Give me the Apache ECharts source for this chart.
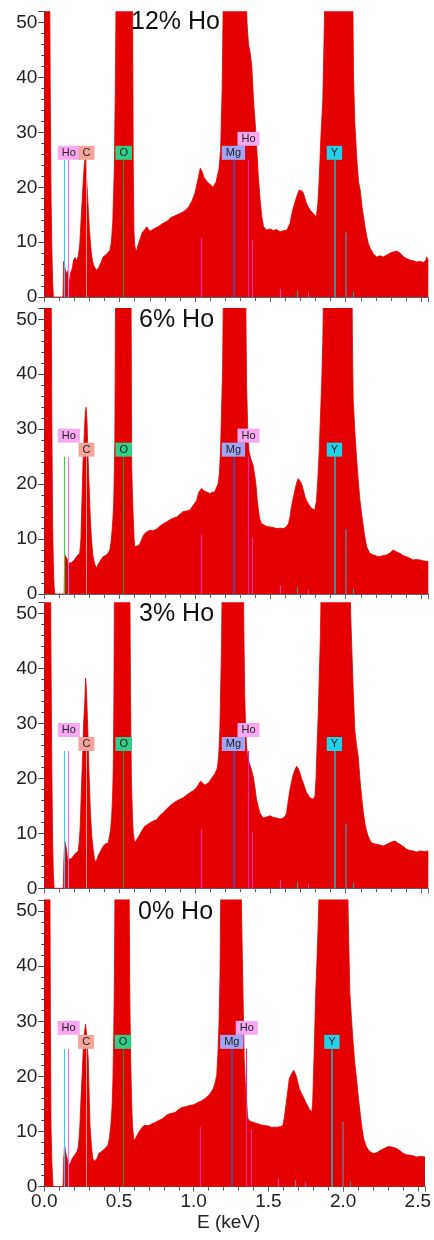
<!DOCTYPE html>
<html>
<head>
<meta charset="utf-8">
<script src="https://cdn.jsdelivr.net/npm/echarts@6/dist/echarts.min.js"></script>
<style>
  html, body { margin: 0; padding: 0; background: #fff; }
  #chart { width: 434px; height: 1240px; }
</style>
</head>
<body>
<div id="chart"></div>
<script>
// EDS spectra, counts vs energy (keV)
const panelTitles = ['12% Ho', '6% Ho', '3% Ho', '0% Ho'];

const ho12 = [
  [0, 60], [0.035, 60], [0.04, 35], [0.045, 18], [0.05, 9], [0.055, 3], [0.06, 0],
  [0.124, 0], [0.128, 6.5], [0.135, 5.5], [0.145, 4.3], [0.155, 4.8], [0.165, 2.6], [0.175, 4.4], [0.185, 5.2],
  [0.195, 6.8], [0.205, 7.2], [0.215, 6.6], [0.225, 7.4], [0.235, 9.5], [0.245, 14.5], [0.255, 19.5], [0.265, 24],
  [0.272, 25.5], [0.28, 22], [0.29, 17], [0.3, 12], [0.31, 8.5], [0.32, 6.5], [0.33, 5.6], [0.345, 4.9], [0.36, 5.3],
  [0.375, 6.2], [0.39, 7.3], [0.405, 7.6], [0.42, 8], [0.435, 8.5], [0.445, 10], [0.455, 14], [0.465, 24], [0.472, 40],
  [0.478, 60], [0.585, 60], [0.59, 25], [0.595, 12], [0.6, 9.3], [0.61, 8.2], [0.62, 9.3], [0.635, 10.5], [0.65, 11.8],
  [0.665, 12.2], [0.68, 12.8], [0.7, 12], [0.72, 12.3], [0.74, 12.6], [0.76, 12.9], [0.78, 13.3], [0.8, 13.6], [0.82, 13.9],
  [0.84, 14.5], [0.86, 14.7], [0.88, 15], [0.9, 15.2], [0.92, 15.5], [0.94, 15.9], [0.96, 16.5], [0.98, 17.5], [1.0, 19],
  [1.02, 21.5], [1.035, 23.5], [1.045, 23], [1.06, 21.8], [1.08, 21], [1.1, 20.5], [1.12, 20], [1.14, 21], [1.16, 23.5],
  [1.17, 27], [1.18, 38], [1.19, 60], [1.335, 60], [1.345, 50], [1.355, 46], [1.366, 44.5], [1.377, 42], [1.388, 36],
  [1.4, 31.5], [1.41, 27], [1.42, 22], [1.432, 17.7], [1.444, 14.5], [1.455, 12.8], [1.475, 12.2], [1.5, 12.4], [1.52, 12.1],
  [1.54, 12.3], [1.565, 11.9], [1.59, 12.1], [1.61, 12.2], [1.63, 13.4], [1.645, 15.5], [1.655, 16.5], [1.675, 18.3],
  [1.69, 19.5], [1.698, 19.8], [1.71, 19.3], [1.72, 18.9], [1.74, 17], [1.765, 15.8], [1.785, 15.2], [1.805, 14.6],
  [1.815, 17], [1.825, 22], [1.835, 29], [1.848, 36], [1.857, 48], [1.865, 60], [2.045, 60], [2.052, 40], [2.06, 32],
  [2.074, 25], [2.085, 21], [2.096, 19.5], [2.108, 16.5], [2.118, 14.6], [2.13, 12.5], [2.14, 11], [2.15, 9.8], [2.162, 8.9],
  [2.185, 7.8], [2.206, 7.3], [2.23, 7.5], [2.25, 7.3], [2.275, 7.7], [2.295, 8], [2.315, 8.2], [2.34, 8.4], [2.36, 8],
  [2.385, 7.3], [2.405, 7], [2.43, 6.7], [2.45, 6.6], [2.47, 6.4], [2.495, 6.5], [2.515, 6.3], [2.53, 6.6], [2.538, 7.3],
  [2.548, 6.5]
];

const ho6 = [
  [0, 60], [0.045, 60], [0.05, 32], [0.055, 13], [0.06, 5.5], [0.065, 1.5], [0.07, 0],
  [0.132, 0], [0.136, 7.1], [0.142, 6.8], [0.15, 6.5], [0.16, 5.6], [0.17, 5.3], [0.18, 5.7], [0.19, 5.6], [0.2, 6.2],
  [0.213, 6.8], [0.225, 7], [0.235, 7.4], [0.243, 10], [0.25, 17], [0.257, 24], [0.265, 29], [0.272, 33], [0.278, 34],
  [0.284, 31], [0.29, 25], [0.297, 20], [0.305, 14], [0.313, 10], [0.322, 7], [0.335, 5.4], [0.346, 4.7], [0.357, 5.4],
  [0.369, 5.9], [0.38, 6.4], [0.39, 6.8], [0.405, 7], [0.42, 7.3], [0.435, 8], [0.443, 9.5], [0.45, 11.6], [0.456, 14],
  [0.461, 17], [0.468, 28], [0.474, 60], [0.575, 60], [0.58, 23], [0.585, 18], [0.59, 14], [0.596, 10], [0.6, 8.6],
  [0.613, 8.5], [0.623, 8.8], [0.635, 9.2], [0.645, 9.4], [0.655, 10.5], [0.667, 11], [0.685, 11.4], [0.7, 11.6],
  [0.72, 11.5], [0.745, 11.8], [0.765, 12.3], [0.79, 12.8], [0.81, 13.1], [0.833, 13.5], [0.855, 13.8], [0.878, 14],
  [0.9, 14.5], [0.922, 15], [0.945, 15.1], [0.966, 15.3], [0.99, 16.2], [1.01, 17], [1.025, 18.5], [1.043, 19.2],
  [1.055, 18.9], [1.065, 18.7], [1.08, 18.5], [1.1, 18.3], [1.115, 18.5], [1.131, 18.6], [1.145, 19.5], [1.154, 20.1],
  [1.162, 22], [1.169, 26], [1.176, 33], [1.183, 41], [1.19, 60], [1.335, 60], [1.342, 38], [1.35, 30], [1.358, 26],
  [1.37, 24.6], [1.385, 23.5], [1.398, 21.3], [1.406, 19.5], [1.413, 17], [1.422, 15], [1.431, 13.5], [1.442, 12.8],
  [1.453, 12.5], [1.475, 12.3], [1.498, 12.2], [1.52, 12.1], [1.542, 11.9], [1.565, 12], [1.586, 11.9], [1.605, 12.2],
  [1.62, 12.8], [1.63, 14], [1.64, 15.9], [1.652, 17.5], [1.663, 18.9], [1.675, 20.3], [1.685, 21], [1.695, 20.6],
  [1.707, 20.1], [1.718, 19], [1.73, 17.7], [1.74, 17], [1.75, 16.5], [1.762, 16], [1.773, 15.6], [1.785, 15.4],
  [1.795, 15.3], [1.806, 17], [1.815, 21], [1.824, 26], [1.832, 32], [1.84, 38], [1.848, 46], [1.855, 60], [2.04, 60],
  [2.045, 45], [2.05, 35], [2.062, 29], [2.073, 24.4], [2.085, 20], [2.095, 17], [2.106, 14.5], [2.117, 12.2],
  [2.128, 10.2], [2.139, 8.6], [2.16, 7.4], [2.184, 7.1], [2.205, 6.9], [2.227, 6.8], [2.25, 7], [2.27, 7.1], [2.295, 7.5],
  [2.315, 8], [2.335, 7.7], [2.36, 7.4], [2.38, 7], [2.404, 6.8], [2.425, 6.5], [2.448, 6.2], [2.47, 6.3], [2.492, 6.2],
  [2.52, 6], [2.548, 5.9]
];

const ho3 = [
  [0, 60], [0.041, 60], [0.045, 40], [0.05, 22], [0.055, 9], [0.06, 2.5], [0.065, 0],
  [0.125, 0], [0.13, 5], [0.136, 8.6], [0.142, 7.8], [0.147, 7.1], [0.152, 6], [0.158, 5.3], [0.17, 5.2], [0.18, 5.4],
  [0.19, 5.8], [0.202, 6.2], [0.213, 6.5], [0.225, 6.8], [0.232, 8.5], [0.238, 11], [0.245, 17], [0.253, 23], [0.261, 30],
  [0.269, 34], [0.274, 38.3], [0.28, 36], [0.286, 31], [0.291, 27], [0.298, 20], [0.306, 13.8], [0.315, 9.5], [0.324, 7.1],
  [0.333, 5.4], [0.34, 4.7], [0.348, 5.2], [0.357, 5.9], [0.368, 6.5], [0.38, 7.1], [0.39, 7.6], [0.402, 8], [0.413, 8.1],
  [0.424, 8.3], [0.433, 9.5], [0.44, 10.7], [0.447, 13], [0.453, 16.8], [0.458, 22], [0.462, 35], [0.466, 60], [0.567, 60],
  [0.572, 35], [0.578, 19.8], [0.585, 13], [0.59, 10.1], [0.6, 8.3], [0.612, 8.8], [0.623, 9.3], [0.634, 9.8], [0.65, 10.6],
  [0.667, 11.3], [0.685, 11.6], [0.7, 11.9], [0.72, 12.2], [0.745, 12.5], [0.765, 13.2], [0.79, 13.8], [0.81, 14.4],
  [0.833, 15], [0.855, 15.5], [0.878, 15.9], [0.9, 16.2], [0.922, 16.5], [0.945, 17], [0.966, 17.4], [0.99, 17.8],
  [1.01, 18.3], [1.025, 19], [1.037, 19.5], [1.05, 19.2], [1.065, 18.8], [1.076, 18.6], [1.09, 19.2], [1.105, 19.8],
  [1.12, 20.4], [1.135, 21], [1.148, 21.9], [1.157, 24], [1.165, 28.9], [1.17, 36], [1.176, 44], [1.182, 60], [1.32, 60],
  [1.325, 45], [1.33, 35], [1.336, 29], [1.342, 25.9], [1.35, 24], [1.36, 22.8], [1.372, 21.8], [1.386, 20.4],
  [1.397, 18.5], [1.408, 16.2], [1.42, 14.8], [1.43, 13.8], [1.442, 13.2], [1.453, 12.8], [1.475, 13], [1.498, 13.2],
  [1.52, 12.9], [1.542, 12.8], [1.565, 12.6], [1.586, 12.8], [1.6, 13.2], [1.608, 13.8], [1.618, 15.8], [1.63, 18],
  [1.642, 19.6], [1.652, 20.7], [1.663, 21.6], [1.674, 22.2], [1.685, 21.8], [1.696, 21], [1.707, 20], [1.718, 19.2],
  [1.73, 18.2], [1.74, 17.4], [1.752, 17], [1.762, 16.5], [1.775, 16.3], [1.785, 16.2], [1.796, 16.8], [1.803, 20],
  [1.81, 25.9], [1.818, 32], [1.824, 38], [1.832, 46], [1.84, 60], [2.027, 60], [2.033, 50], [2.04, 44], [2.05, 36],
  [2.06, 28.9], [2.072, 26], [2.083, 24], [2.094, 20], [2.105, 16.8], [2.116, 14], [2.127, 11.9], [2.138, 10.5],
  [2.149, 9.5], [2.16, 8.8], [2.171, 8.3], [2.19, 8.1], [2.205, 8], [2.228, 7.9], [2.25, 7.7], [2.272, 8], [2.294, 8.3],
  [2.31, 8.5], [2.326, 8.6], [2.343, 8.3], [2.36, 8], [2.382, 7.6], [2.404, 7.1], [2.425, 6.9], [2.448, 6.8], [2.47, 6.6],
  [2.492, 6.8], [2.52, 6.7], [2.548, 6.8]
];

const ho0 = [
  [0, 60], [0.037, 60], [0.041, 29], [0.045, 11], [0.05, 5], [0.055, 1.5], [0.059, 0],
  [0.125, 0], [0.13, 5], [0.136, 7.5], [0.142, 6.5], [0.147, 5.7], [0.158, 4.6], [0.169, 3.9], [0.178, 4.5], [0.187, 5.1],
  [0.195, 5.4], [0.202, 5.7], [0.21, 6], [0.218, 6.3], [0.226, 7], [0.232, 8.5], [0.238, 11], [0.245, 15.5], [0.253, 20.2],
  [0.261, 25], [0.269, 28], [0.276, 29.5], [0.282, 28], [0.288, 25.5], [0.294, 23.2], [0.3, 17], [0.306, 11.1],
  [0.315, 7.5], [0.324, 5.1], [0.335, 4.6], [0.346, 4.5], [0.355, 5.2], [0.364, 6], [0.378, 6.3], [0.39, 6.6], [0.402, 6.8],
  [0.413, 6.9], [0.425, 7.5], [0.435, 8.7], [0.445, 11], [0.453, 14.1], [0.459, 19], [0.464, 26], [0.47, 40], [0.474, 60],
  [0.567, 60], [0.572, 35], [0.578, 23.2], [0.584, 16], [0.59, 11.1], [0.6, 8.4], [0.612, 8.8], [0.623, 9.4], [0.634, 9.9],
  [0.65, 10.6], [0.667, 11.1], [0.685, 11.1], [0.7, 11.1], [0.72, 11.4], [0.745, 11.7], [0.765, 12], [0.79, 12.3],
  [0.81, 12.8], [0.833, 13.2], [0.855, 13.3], [0.878, 13.5], [0.9, 14], [0.922, 14.4], [0.945, 14.5], [0.966, 14.7],
  [0.99, 14.8], [1.01, 15], [1.03, 15.3], [1.054, 15.6], [1.076, 16], [1.098, 16.5], [1.115, 17.1], [1.131, 17.8],
  [1.143, 18.8], [1.154, 20.2], [1.162, 24], [1.169, 29.2], [1.176, 38], [1.183, 60], [1.315, 60], [1.32, 50],
  [1.326, 41.3], [1.332, 32], [1.338, 23.2], [1.345, 19], [1.353, 15.9], [1.36, 13], [1.364, 12.3], [1.375, 11.9],
  [1.386, 11.7], [1.408, 11.6], [1.43, 11.4], [1.452, 11.2], [1.475, 11.1], [1.498, 11], [1.52, 10.8], [1.542, 10.8],
  [1.563, 10.8], [1.58, 10.9], [1.597, 11.1], [1.608, 12.8], [1.62, 15.3], [1.63, 17.5], [1.64, 19.6], [1.655, 20.5],
  [1.67, 21.1], [1.685, 20.2], [1.696, 19], [1.707, 17.8], [1.718, 17.1], [1.73, 16.5], [1.74, 15.9], [1.75, 15.3],
  [1.762, 14.7], [1.773, 14.1], [1.79, 13.5], [1.796, 15], [1.802, 20.2], [1.81, 28], [1.817, 35.3], [1.825, 41],
  [1.833, 47.3], [1.846, 60], [2.028, 60], [2.035, 48], [2.045, 35.3], [2.056, 30.5], [2.067, 26.2], [2.078, 22.5],
  [2.09, 19.6], [2.103, 16], [2.116, 12.9], [2.127, 10.5], [2.138, 8.7], [2.155, 7.3], [2.171, 6.6], [2.188, 6.2],
  [2.205, 6], [2.228, 6.2], [2.25, 6.6], [2.272, 6.9], [2.294, 7.2], [2.31, 7.3], [2.326, 7.2], [2.343, 7.1], [2.36, 6.9],
  [2.382, 6.5], [2.404, 6], [2.425, 5.8], [2.448, 5.7], [2.47, 5.6], [2.492, 5.4], [2.52, 5.5], [2.548, 5.4]
];

const spectra = [ho12, ho6, ho3, ho0];

// element line markers: energy (keV) and height (counts)
const lineEnergy = [0.132, 0.158, 0.28, 0.526, 1.043, 1.254, 1.352, 1.382, 1.924, 1.998, 1.567, 1.68, 1.75, 2.05];
const lineHeight = [25, 25, 25, 25, 10.8, 25, 25, 10.3, 25, 11.8, 1.5, 1.2, 0.8, 1.0];

// element tags
const tagNames = ['Ho', 'C', 'O', 'Mg', 'Ho', 'Y'];
const tagEnergy = [0.163, 0.28, 0.527, 1.255, 1.355, 1.925];
const tagBase12 = [25, 25, 25, 25, 27.55, 25];
const tagBaseOther = [27.55, 25, 25, 25, 27.55, 25];

const energyMax = 2.548;
const countMax = 52;

const RED = '#e40000';
const lineColors = ['#3cc8e6', '#ff70e0', '#e8a0a0', '#2f8f2f', '#ff2aa0', '#3858c8', '#e02c9c', '#ff2aa0',
  '#3f8fa0', '#667888', '#ff40b0', '#6f8090', '#a060e0', '#30a0b0'];
const lineWidths = [1.2, 1.2, 1, 1.2, 1.2, 1.5, 1.2, 1.2, 2, 1.5, 1.2, 1.2, 1, 1];
const tagColors = { Ho: '#f8a8f0', C: '#f4a49c', O: '#33cc88', Mg: '#a0a4f4', Y: '#22d0e8' };

const grids = [
  { left: 44.3, right: 5.7, top: 11.7, height: 285.3 },
  { left: 44.3, right: 5.7, top: 308.3, height: 285.7 },
  { left: 44.3, right: 5.7, top: 602.7, height: 285.6 },
  { left: 44.3, right: 5.7, top: 900, height: 286.7 }
];
const titleTops = [9.3, 307.5, 601.5, 899.5];
const titleLefts = [131, 139, 139, 138];

const FONT = 'Liberation Sans';
const tickText = { fontSize: 19, color: '#222', fontFamily: FONT };
const chart = echarts.init(document.getElementById('chart'));

const xAxes = grids.map((g, i) => ({
  type: 'value', gridIndex: i, min: 0, max: energyMax, interval: 0.5,
  axisLine: { show: true, lineStyle: { color: '#5a6570', width: 1 } },
  axisTick: { show: true, length: 5, lineStyle: { color: '#5a6570' } },
  minorTick: { show: true, splitNumber: 5, length: 4, lineStyle: { color: '#5a6570' } },
  splitLine: { show: false },
  axisLabel: {
    show: i === 3, margin: 6, fontSize: 19, color: '#222', fontFamily: FONT,
    rich: { t: tickText },
    formatter: v => (Math.abs(v * 2 - Math.round(v * 2)) < 1e-6 ? '{t|' + v.toFixed(1) + '}' : '')
  },
  name: i === 3 ? 'E (keV)' : '', nameLocation: 'middle', nameGap: 27,
  nameTextStyle: { fontSize: 19, color: '#222', fontFamily: FONT, padding: [0, 12, 0, 0] }
}));

const yAxes = grids.map((g, i) => ({
  type: 'value', gridIndex: i, min: 0, max: countMax, interval: 10,
  axisLine: { show: true, lineStyle: { color: '#444', width: 1 } },
  axisTick: { show: true, length: 6, lineStyle: { color: '#444' } },
  minorTick: { show: true, splitNumber: 5, length: 3, lineStyle: { color: '#444' } },
  splitLine: { show: false },
  axisLabel: {
    margin: 7, fontSize: 19, color: '#222', fontFamily: FONT,
    rich: { t: tickText },
    formatter: v => (v % 10 === 0 ? '{t|' + v + '}' : '')
  }
}));

const series = [];
spectra.forEach((data, i) => {
  const marks = lineEnergy.map((e, k) => {
    let color = lineColors[k];
    if (i === 1 && k === 0) color = '#44cc44';
    return [
      { coord: [e, 0], lineStyle: { color: color, width: lineWidths[k], type: 'solid' } },
      { coord: [e, lineHeight[k]] }
    ];
  });
  series.push({
    type: 'line', xAxisIndex: i, yAxisIndex: i, data: data,
    showSymbol: false, symbol: 'none', smooth: false,
    lineStyle: { color: RED, width: 0.8 },
    areaStyle: { color: RED, opacity: 1 },
    markLine: { silent: true, symbol: ['none', 'none'], label: { show: false }, animation: false, data: marks }
  });
  const bases = i === 0 ? tagBase12 : tagBaseOther;
  series.push({
    type: 'scatter', xAxisIndex: i, yAxisIndex: i, symbolSize: 0, z: 6, silent: true,
    itemStyle: { opacity: 1 },
    data: tagNames.map((n, k) => ({
      name: n, value: [tagEnergy[k], bases[k]],
      label: { backgroundColor: tagColors[n] }
    })),
    label: {
      show: true, position: 'top', distance: 0, formatter: '{b}',
      fontSize: 11, lineHeight: 10, color: '#222', fontFamily: FONT, padding: [2, 4]
    }
  });
});

chart.setOption({
  animation: false,
  title: panelTitles.map((t, i) => ({
    text: t, left: titleLefts[i], top: titleTops[i], padding: 0,
    textStyle: { fontSize: 25, fontWeight: 'normal', color: '#111', fontFamily: FONT }
  })),
  grid: grids,
  xAxis: xAxes,
  yAxis: yAxes,
  series: series
});
</script>
</body>
</html>
